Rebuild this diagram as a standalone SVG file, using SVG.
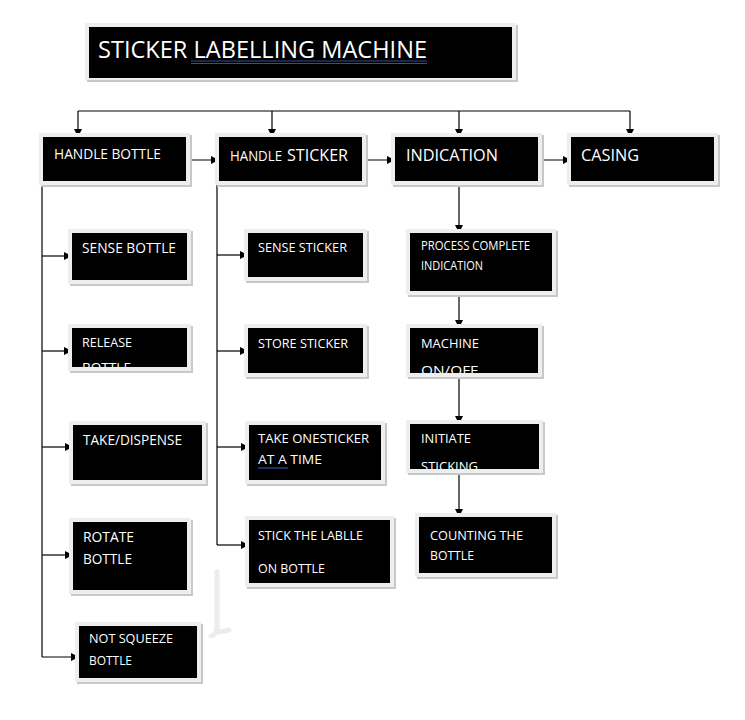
<svg xmlns="http://www.w3.org/2000/svg" width="745" height="720" viewBox="0 0 745 720">
<style>
.sh{fill:#c8c8c8}
.fr{fill:#eeeeee}
.bx{fill:#000}
.t{font-family:"Open Sans","Liberation Sans",sans-serif;fill:#fff}
.s12{font-size:12px}
.s13{font-size:13px}
.s14{font-size:14px}
.s17{font-size:17px}
.s22{font-size:23px}
.c{stroke:#000;stroke-width:1.2;fill:none}
.ul{stroke:#2a4fa8;stroke-width:1.2}
</style>
<defs>
<marker id="ah" viewBox="0 0 10 10" refX="10" refY="5" markerWidth="8" markerHeight="8" orient="auto" markerUnits="userSpaceOnUse">
<path d="M0,0 L10,5 L0,10 z" fill="#000"/>
</marker>
<clipPath id="cpRel"><rect x="72" y="328" width="115" height="39"/></clipPath>
<clipPath id="cpMac"><rect x="410" y="328" width="128" height="45"/></clipPath>
<clipPath id="cpIni"><rect x="410" y="424" width="129" height="45"/></clipPath>
</defs>
<rect width="745" height="720" fill="#fff"/>

<path d="M217,572 L217,628 Q217,634 211,636 M217,632 Q222,632 229,630" stroke="#ececec" stroke-width="5" fill="none" stroke-linecap="round"/>

<g id="connectors">
<path class="c" d="M78,111 L630,111"/>
<path class="c" d="M78,111 L78,137" marker-end="url(#ah)"/>
<path class="c" d="M272,111 L272,137" marker-end="url(#ah)"/>
<path class="c" d="M459,111 L459,137" marker-end="url(#ah)"/>
<path class="c" d="M630,111 L630,137" marker-end="url(#ah)"/>
<path class="c" d="M186,160 L219,160" marker-end="url(#ah)"/>
<path class="c" d="M362,160 L395,160" marker-end="url(#ah)"/>
<path class="c" d="M538,160 L571,160" marker-end="url(#ah)"/>
<path class="c" d="M42,181 L42,657"/>
<path class="c" d="M42,256 L72,256" marker-end="url(#ah)"/>
<path class="c" d="M42,351 L72,351" marker-end="url(#ah)"/>
<path class="c" d="M42,447 L73,447" marker-end="url(#ah)"/>
<path class="c" d="M42,555 L73,555" marker-end="url(#ah)"/>
<path class="c" d="M42,657 L79,657" marker-end="url(#ah)"/>
<path class="c" d="M217,181 L217,545"/>
<path class="c" d="M217,255 L248,255" marker-end="url(#ah)"/>
<path class="c" d="M217,351 L248,351" marker-end="url(#ah)"/>
<path class="c" d="M217,447 L249,447" marker-end="url(#ah)"/>
<path class="c" d="M217,545 L249,545" marker-end="url(#ah)"/>
<path class="c" d="M459,181 L459,233" marker-end="url(#ah)"/>
<path class="c" d="M459,291 L459,328" marker-end="url(#ah)"/>
<path class="c" d="M459,373 L459,424" marker-end="url(#ah)"/>
<path class="c" d="M459,469 L459,517" marker-end="url(#ah)"/>
</g>

<g id="title">
<rect class="sh" x="87" y="25" width="431" height="57"/>
<rect class="fr" x="85" y="23" width="431" height="57"/>
<rect class="bx" x="89" y="27" width="423" height="51"/>
<text class="t s22" x="98" y="58" textLength="329" lengthAdjust="spacingAndGlyphs">STICKER LABELLING  MACHINE</text>
<line class="ul" x1="191" y1="61" x2="427" y2="61"/>
<line class="ul" x1="191" y1="63.5" x2="427" y2="63.5"/>
</g>

<g id="handle-bottle">
<rect class="sh" x="41" y="135" width="151" height="52"/>
<rect class="fr" x="39" y="133" width="151" height="52"/>
<rect class="bx" x="43" y="137" width="143" height="44"/>
<text class="t s14" x="54" y="159" textLength="107" lengthAdjust="spacingAndGlyphs">HANDLE BOTTLE</text>
</g>

<g id="handle-sticker">
<rect class="sh" x="217" y="135" width="151" height="52"/>
<rect class="fr" x="215" y="133" width="151" height="52"/>
<rect class="bx" x="219" y="137" width="143" height="44"/>
<text class="t s14" x="230" y="161" textLength="52" lengthAdjust="spacingAndGlyphs">HANDLE</text>
<text class="t s17" x="287" y="161" textLength="61" lengthAdjust="spacingAndGlyphs">STICKER</text>
</g>

<g id="indication">
<rect class="sh" x="393" y="135" width="151" height="52"/>
<rect class="fr" x="391" y="133" width="151" height="52"/>
<rect class="bx" x="395" y="137" width="143" height="44"/>
<text class="t s17" x="406" y="161" textLength="92" lengthAdjust="spacingAndGlyphs">INDICATION</text>
</g>

<g id="casing">
<rect class="sh" x="569" y="135" width="151" height="52"/>
<rect class="fr" x="567" y="133" width="151" height="52"/>
<rect class="bx" x="571" y="137" width="143" height="44"/>
<text class="t s17" x="581" y="161" textLength="58" lengthAdjust="spacingAndGlyphs">CASING</text>
</g>

<g id="sense-bottle">
<rect class="sh" x="70" y="231" width="123" height="55"/>
<rect class="fr" x="68" y="229" width="123" height="55"/>
<rect class="bx" x="72" y="233" width="115" height="47"/>
<text class="t s14" x="82" y="253" textLength="94" lengthAdjust="spacingAndGlyphs">SENSE BOTTLE</text>
</g>

<g id="release-bottle">
<rect class="sh" x="70" y="326" width="123" height="47"/>
<rect class="fr" x="68" y="324" width="123" height="47"/>
<rect class="bx" x="72" y="328" width="115" height="39"/>
<g clip-path="url(#cpRel)">
<text class="t s13" x="82" y="347" textLength="50" lengthAdjust="spacingAndGlyphs">RELEASE</text>
<text class="t s13" x="82" y="372" textLength="49" lengthAdjust="spacingAndGlyphs">BOTTLE</text>
</g>
</g>

<g id="take-dispense">
<rect class="sh" x="71" y="423" width="137" height="63"/>
<rect class="fr" x="69" y="421" width="137" height="63"/>
<rect class="bx" x="73" y="425" width="129" height="55"/>
<text class="t s14" x="83" y="445" textLength="99" lengthAdjust="spacingAndGlyphs">TAKE/DISPENSE</text>
</g>

<g id="rotate-bottle">
<rect class="sh" x="71" y="520" width="122" height="76"/>
<rect class="fr" x="69" y="518" width="122" height="76"/>
<rect class="bx" x="73" y="522" width="114" height="68"/>
<text class="t s14" x="83" y="542" textLength="51" lengthAdjust="spacingAndGlyphs">ROTATE</text>
<text class="t s14" x="83" y="564" textLength="49" lengthAdjust="spacingAndGlyphs">BOTTLE</text>
</g>

<g id="not-squeeze">
<rect class="sh" x="77" y="624" width="126" height="60"/>
<rect class="fr" x="75" y="622" width="126" height="60"/>
<rect class="bx" x="79" y="626" width="118" height="52"/>
<text class="t s13" x="89" y="643" textLength="84" lengthAdjust="spacingAndGlyphs">NOT SQUEEZE</text>
<text class="t s13" x="89" y="665" textLength="43" lengthAdjust="spacingAndGlyphs">BOTTLE</text>
</g>

<g id="sense-sticker">
<rect class="sh" x="246" y="231" width="123" height="52"/>
<rect class="fr" x="244" y="229" width="123" height="52"/>
<rect class="bx" x="248" y="233" width="115" height="44"/>
<text class="t s13" x="258" y="252" textLength="89" lengthAdjust="spacingAndGlyphs">SENSE STICKER</text>
</g>

<g id="store-sticker">
<rect class="sh" x="246" y="326" width="123" height="53"/>
<rect class="fr" x="244" y="324" width="123" height="53"/>
<rect class="bx" x="248" y="328" width="115" height="45"/>
<text class="t s13" x="258" y="348" textLength="90" lengthAdjust="spacingAndGlyphs">STORE STICKER</text>
</g>

<g id="take-one-sticker">
<rect class="sh" x="247" y="423" width="140" height="63"/>
<rect class="fr" x="245" y="421" width="140" height="63"/>
<rect class="bx" x="249" y="425" width="132" height="55"/>
<text class="t s13" x="258" y="443" textLength="111" lengthAdjust="spacingAndGlyphs">TAKE ONESTICKER</text>
<text class="t s13" x="258" y="464" textLength="64" lengthAdjust="spacingAndGlyphs">AT  A TIME</text>
<line class="ul" x1="258" y1="468" x2="288" y2="468"/>
</g>

<g id="stick-label">
<rect class="sh" x="247" y="518" width="149" height="71"/>
<rect class="fr" x="245" y="516" width="149" height="71"/>
<rect class="bx" x="249" y="520" width="141" height="63"/>
<text class="t s13" x="258" y="540" textLength="105" lengthAdjust="spacingAndGlyphs">STICK THE LABLLE</text>
<text class="t s13" x="258" y="573" textLength="67" lengthAdjust="spacingAndGlyphs">ON BOTTLE</text>
</g>

<g id="process-complete">
<rect class="sh" x="408" y="231" width="150" height="66"/>
<rect class="fr" x="406" y="229" width="150" height="66"/>
<rect class="bx" x="410" y="233" width="142" height="58"/>
<text class="t s12" x="421" y="250" textLength="109" lengthAdjust="spacingAndGlyphs">PROCESS COMPLETE</text>
<text class="t s12" x="421" y="270" textLength="62" lengthAdjust="spacingAndGlyphs">INDICATION</text>
</g>

<g id="machine-onoff">
<rect class="sh" x="408" y="326" width="136" height="53"/>
<rect class="fr" x="406" y="324" width="136" height="53"/>
<rect class="bx" x="410" y="328" width="128" height="45"/>
<g clip-path="url(#cpMac)">
<text class="t s13" x="421" y="348" textLength="58" lengthAdjust="spacingAndGlyphs">MACHINE</text>
<text class="t s13" x="421" y="375" textLength="57" lengthAdjust="spacingAndGlyphs">ON/OFF</text>
</g>
</g>

<g id="initiate-sticking">
<rect class="sh" x="408" y="422" width="137" height="53"/>
<rect class="fr" x="406" y="420" width="137" height="53"/>
<rect class="bx" x="410" y="424" width="129" height="45"/>
<g clip-path="url(#cpIni)">
<text class="t s13" x="421" y="443" textLength="50" lengthAdjust="spacingAndGlyphs">INITIATE</text>
<text class="t s13" x="421" y="471" textLength="57" lengthAdjust="spacingAndGlyphs">STICKING</text>
</g>
</g>

<g id="counting">
<rect class="sh" x="417" y="515" width="141" height="64"/>
<rect class="fr" x="415" y="513" width="141" height="64"/>
<rect class="bx" x="419" y="517" width="133" height="56"/>
<text class="t s13" x="430" y="540" textLength="93" lengthAdjust="spacingAndGlyphs">COUNTING THE</text>
<text class="t s13" x="430" y="560" textLength="44" lengthAdjust="spacingAndGlyphs">BOTTLE</text>
</g>
</svg>
